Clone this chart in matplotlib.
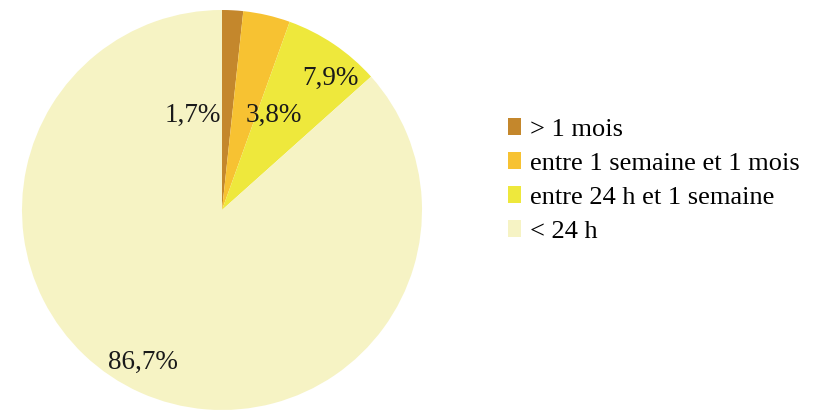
import matplotlib
matplotlib.use("Agg")
import matplotlib.pyplot as plt
from matplotlib.patches import Patch

categories = ["> 1 mois", "entre 1 semaine et 1 mois", "entre 24 h et 1 semaine", "< 24 h"]
values = [1.7, 3.8, 7.9, 86.7]
value_labels = ["1,7%", "3,8%", "7,9%", "86,7%"]
colors = ["#C4872C", "#F7C232", "#EEE83C", "#F6F3C4"]
label_pos = [(-0.145, 0.475), (0.26, 0.475), (0.54, 0.66), (-0.395, -0.76)]

plt.rcParams['font.family'] = ['Liberation Serif', 'DejaVu Serif']

fig = plt.figure(figsize=(8.2, 4.16), dpi=100)
ax = fig.add_axes([22/820, 6/416, 400/820, 400/416])
ax.pie(values, colors=colors, startangle=90, counterclock=False, radius=1.0,
       wedgeprops=dict(linewidth=0))
ax.set_xlim(-1, 1)
ax.set_ylim(-1, 1)
ax.set_aspect('equal')
ax.axis('off')
for lab, (x, y) in zip(value_labels, label_pos):
    ax.text(x, y, lab, ha='center', va='center', fontsize=19.5, color='#1a1a1a')

handles = [Patch(facecolor=c, edgecolor='none') for c in colors]
fig.legend(handles, categories, loc='upper left', bbox_to_anchor=(508/820, 1 - 118/416),
           frameon=False, fontsize=19, handlelength=0.5, handleheight=0.6,
           handletextpad=0.35, labelspacing=0.43, borderaxespad=0, borderpad=0)

fig.savefig("out.png", dpi=100)
